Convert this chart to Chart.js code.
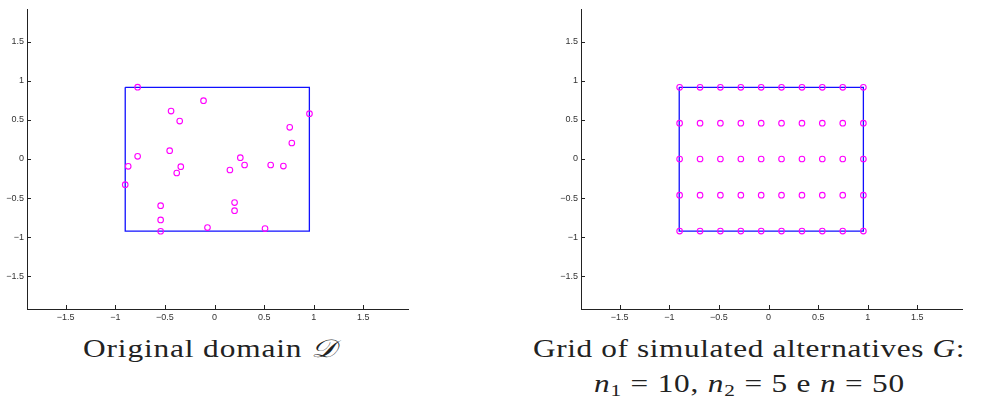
<!DOCTYPE html>
<html>
<head>
<meta charset="utf-8">
<script src="https://cdn.jsdelivr.net/npm/chart.js@4.4.1/dist/chart.umd.min.js"></script>
<style>
  html, body { margin: 0; padding: 0; background: #fff; }
  body { width: 991px; height: 403px; position: relative; overflow: hidden; }
  .panel { position: absolute; top: 0; width: 420px; height: 330px; }
  .cap {
    position: absolute; white-space: nowrap; color: #222;
    font-family: "Liberation Serif", "DejaVu Serif", serif; font-size: 25px; line-height: 25px;
    transform-origin: 0 0;
  }
  .cap i { font-style: italic; }
  .cap sub { font-size: 17px; vertical-align: -4px; line-height: 0; }
</style>
</head>
<body>
<div class="panel" style="left:0"><canvas id="left"></canvas></div>
<div class="panel" style="left:554px"><canvas id="right"></canvas></div>
<div class="cap" id="capL" data-cx="210" data-w="254" style="top:336px">Original domain <i>𝒟</i></div>
<div class="cap" id="capR1" data-cx="749" data-w="432" style="top:336px">Grid of simulated alternatives <i>G</i>:</div>
<div class="cap" id="capR2" data-cx="749.5" data-w="311" style="top:371px"><i>n</i><sub>1</sub> = 10, <i>n</i><sub>2</sub> = 5 e <i>n</i> = 50</div>
<script>
// axis limits and ticks
const xLimits = [-1.89, 1.95];
const yLimits = [-1.92, 1.92];
const xTicks = [-1.5, -1, -0.5, 0, 0.5, 1, 1.5];
const yTicks = [-1.5, -1, -0.5, 0, 0.5, 1, 1.5];

// domain rectangle (closed)
const boxX = [-0.9, 0.956, 0.956, -0.9, -0.9];
const boxY = [0.918, 0.918, -0.922, -0.922, 0.918];

// left panel: sampled points of the original domain
const sampleX = [-0.775, -0.111, -0.438, -0.351, 0.957, 0.758, 0.779, -0.452, -0.775, -0.87,
  -0.34, -0.381, -0.9, 0.155, 0.26, 0.303, 0.566, 0.694, -0.543, -0.543,
  -0.543, 0.202, 0.202, -0.071, 0.509];
const sampleY = [0.92, 0.746, 0.614, 0.486, 0.58, 0.405, 0.205, 0.107, 0.034, -0.094,
  -0.098, -0.179, -0.328, -0.141, 0.017, -0.077, -0.077, -0.09, -0.597, -0.78,
  -0.925, -0.558, -0.661, -0.878, -0.891];

// right panel: grid of simulated alternatives (n1 = 10, n2 = 5)
const gridX = [-0.896, -0.69, -0.485, -0.279, -0.074, 0.131, 0.337, 0.542, 0.748, 0.956];
const gridY = [0.918, 0.458, 0, -0.463, -0.922];

const toPts = (xs, ys) => xs.map((x, i) => ({ x: x, y: ys[i] }));
const gridPts = [];
gridY.forEach(y => gridX.forEach(x => gridPts.push({ x: x, y: y })));

const fmt = v => String(v).replace('-', '\u2212');

// MATLAB style ticks pointing into the plot
const inwardTicks = {
  id: 'inwardTicks',
  afterDraw(chart) {
    const { ctx, chartArea: a, scales } = chart;
    ctx.save();
    ctx.strokeStyle = '#222';
    ctx.lineWidth = 1;
    ctx.beginPath();
    xTicks.forEach(v => {
      const px = Math.round(scales.x.getPixelForValue(v)) + 0.5;
      ctx.moveTo(px, a.bottom); ctx.lineTo(px, a.bottom - 4);
    });
    yTicks.forEach(v => {
      const py = Math.round(scales.y.getPixelForValue(v)) + 0.5;
      ctx.moveTo(a.left, py); ctx.lineTo(a.left + 4, py);
    });
    ctx.stroke();
    ctx.restore();
  }
};

function plotPanel(canvas, points) {
  const tickFont = { family: 'Liberation Sans, Arial, sans-serif', size: 9 };
  return new Chart(canvas, {
    type: 'scatter',
    data: {
      datasets: [
        {
          data: points,
          pointStyle: 'circle',
          pointRadius: 2.8,
          pointBorderWidth: 1.1,
          pointBorderColor: '#ff00ff',
          pointBackgroundColor: 'rgba(0,0,0,0)',
          showLine: false
        },
        {
          type: 'line',
          data: toPts(boxX, boxY),
          borderColor: '#1010ff',
          borderWidth: 1.3,
          pointRadius: 0,
          fill: false,
          tension: 0
        }
      ]
    },
    options: {
      responsive: true,
      maintainAspectRatio: false,
      animation: false,
      events: [],
      layout: { padding: { top: 9, right: 12, left: 0, bottom: 0 } },
      plugins: { legend: { display: false }, tooltip: { enabled: false } },
      scales: {
        x: {
          type: 'linear',
          position: 'bottom',
          min: xLimits[0],
          max: xLimits[1],
          afterBuildTicks: s => { s.ticks = xTicks.map(v => ({ value: v })); },
          afterFit: s => { s.height = 21; },
          grid: { display: false, drawTicks: false },
          border: { display: true, color: '#222', width: 1 },
          ticks: { font: tickFont, color: '#333', padding: 3, maxRotation: 0, autoSkip: false, callback: fmt }
        },
        y: {
          type: 'linear',
          position: 'left',
          min: yLimits[0],
          max: yLimits[1],
          afterBuildTicks: s => { s.ticks = yTicks.map(v => ({ value: v })); },
          afterFit: s => { s.width = 27; },
          grid: { display: false, drawTicks: false },
          border: { display: true, color: '#222', width: 1 },
          ticks: { font: tickFont, color: '#333', padding: 3, autoSkip: false, callback: fmt }
        }
      }
    },
    plugins: [inwardTicks]
  });
}

plotPanel(document.getElementById('left'), toPts(sampleX, sampleY));
plotPanel(document.getElementById('right'), gridPts);

// widen captions to the width they have in the figure: some stretch, the rest as letter spacing
const capStretch = 1.25;
document.querySelectorAll('.cap').forEach(el => {
  const target = Number(el.dataset.w);
  const w0 = el.getBoundingClientRect().width;
  const n = el.textContent.length;
  el.style.letterSpacing = Math.max(0, (target / capStretch - w0) / n) + 'px';
  const w1 = el.getBoundingClientRect().width;
  el.style.left = (Number(el.dataset.cx) - target / 2) + 'px';
  el.style.transform = 'scaleX(' + (target / w1) + ')';
});
</script>
</body>
</html>
